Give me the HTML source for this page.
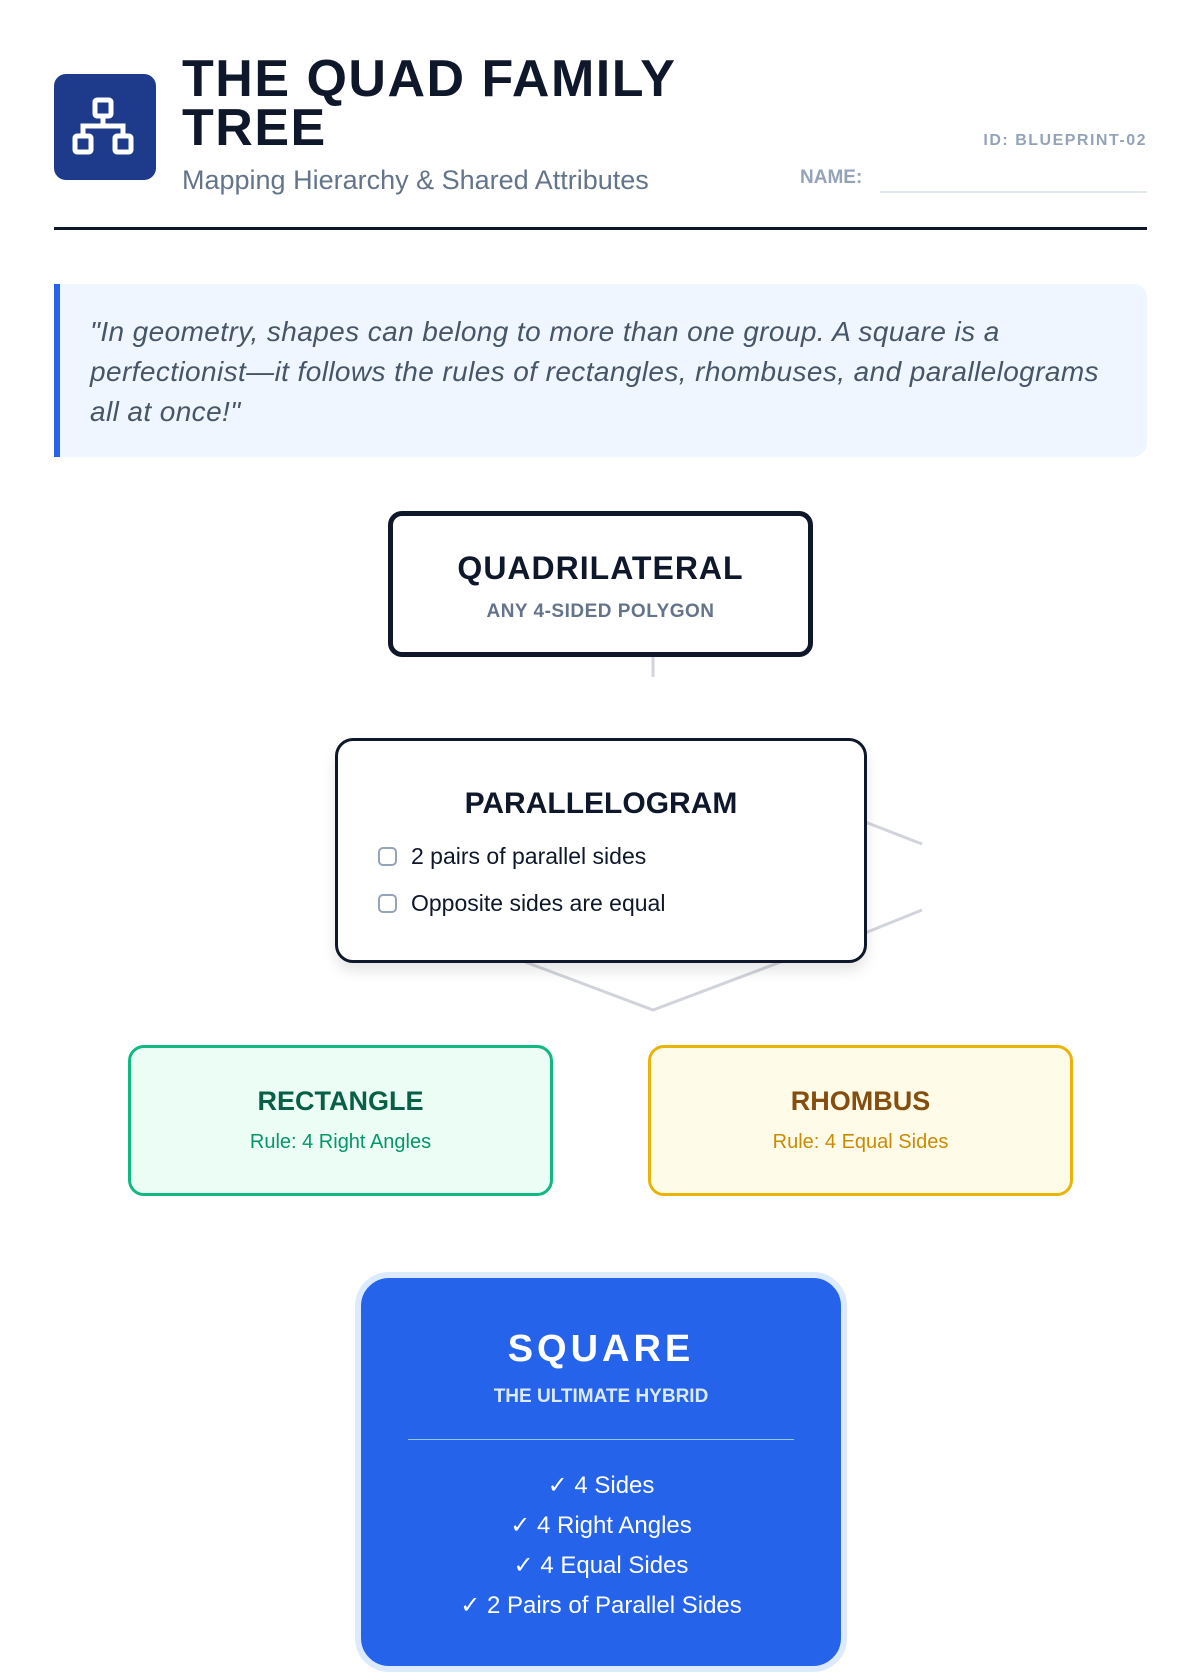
<!DOCTYPE html>
<html><head><meta charset="utf-8"><style>
*{margin:0;padding:0;box-sizing:border-box}
body{width:1200px;height:1600px;overflow:hidden;background:#fff;font-family:"Liberation Sans",sans-serif;position:relative;color:#0f172a}
.a{position:absolute}
.c{text-align:center}
</style></head><body>
<div class="a" style="left:54px;top:74px;width:102px;height:106px;background:#1e3a8a;border-radius:12px"></div>
<svg class="a" style="left:54px;top:74px" width="102" height="106" viewBox="0 0 102 106">
<g fill="none" stroke="#fff" stroke-width="5"><rect x="41" y="26" width="16" height="16" rx="2"/><rect x="21" y="62" width="16" height="16" rx="2"/><rect x="61" y="62" width="16" height="16" rx="2"/><path d="M49 42v10M29 62v-10h40v10"/></g></svg>
<div class="a" style="left:182px;top:55px;font-size:52px;font-weight:900;line-height:49px;letter-spacing:1.5px">THE QUAD FAMILY<br>TREE</div>
<div class="a" style="left:182px;top:165px;font-size:27px;color:#64748b">Mapping Hierarchy &amp; Shared Attributes</div>
<div class="a" style="right:53px;top:132px;font-size:16px;font-weight:bold;color:#94a3b8;letter-spacing:1.5px">ID: BLUEPRINT-02</div>
<div class="a" style="left:800px;top:167px;font-size:19px;font-weight:bold;color:#94a3b8">NAME:</div>
<div class="a" style="left:880px;top:191px;width:267px;height:2px;background:#e2e8f0"></div>
<div class="a" style="left:54px;top:227px;width:1093px;height:3px;background:#0f172a"></div>
<div class="a" style="left:54px;top:284px;width:1093px;height:173px;background:#eff6ff;border-left:6px solid #2563eb;border-radius:0 14px 14px 0;padding:28px 10px 0 30px;font-size:28px;letter-spacing:0.4px;font-style:italic;color:#475569;line-height:40px;white-space:nowrap">"In geometry, shapes can belong to more than one group. A square is a<br>perfectionist—it follows the rules of rectangles, rhombuses, and parallelograms<br>all at once!"</div>
<svg class="a" style="left:0;top:0" width="1200" height="1100"><g stroke="#d1d5db" stroke-width="3" fill="none"><path d="M653 657V677"/><path d="M520 960L653 1010L786 960"/><path d="M860 820L922 844"/><path d="M860 935L922 910"/></g></svg>
<div class="a c" style="left:388px;top:511px;width:425px;height:146px;border:5px solid #0f172a;border-radius:14px;background:#fff">
<div style="font-size:32px;font-weight:900;margin-top:34px;letter-spacing:1px">QUADRILATERAL</div>
<div style="font-size:19px;font-weight:bold;color:#64748b;margin-top:14px;letter-spacing:.5px">ANY 4-SIDED POLYGON</div></div>
<div class="a" style="left:335px;top:738px;width:532px;height:225px;border:3px solid #0f172a;border-radius:18px;background:#fff;box-shadow:0 8px 14px rgba(0,0,0,.1)">
<div class="c" style="font-size:30px;font-weight:900;margin-top:46px">PARALLELOGRAM</div>
<div style="position:absolute;left:40px;top:92px;font-size:23px;line-height:47px">
<div><span style="display:inline-block;width:19px;height:19px;border:2px solid #94a3b8;border-radius:5px;vertical-align:-2px;margin-right:14px"></span>2 pairs of parallel sides</div>
<div><span style="display:inline-block;width:19px;height:19px;border:2px solid #94a3b8;border-radius:5px;vertical-align:-2px;margin-right:14px"></span>Opposite sides are equal</div></div></div>
<div class="a c" style="left:128px;top:1045px;width:425px;height:151px;border:3px solid #10b981;border-radius:16px;background:#ecfdf5">
<div style="font-size:27px;font-weight:900;color:#065f46;margin-top:38px">RECTANGLE</div>
<div style="font-size:20px;color:#059669;margin-top:14px">Rule: 4 Right Angles</div></div>
<div class="a c" style="left:648px;top:1045px;width:425px;height:151px;border:3px solid #eab308;border-radius:16px;background:#fefce8">
<div style="font-size:27px;font-weight:900;color:#854d0e;margin-top:38px">RHOMBUS</div>
<div style="font-size:20px;color:#ca8a04;margin-top:14px">Rule: 4 Equal Sides</div></div>
<div class="a" style="left:355px;top:1272px;width:492px;height:400px;border:6px solid #dbeafe;border-radius:34px;background:#2563eb"></div>
<div class="a c" style="left:361px;top:1278px;width:480px;color:#fff">
<div style="font-size:38px;font-weight:900;letter-spacing:4px;margin-top:50px">SQUARE</div>
<div style="font-size:19px;font-weight:bold;color:#dbeafe;margin-top:15px">THE ULTIMATE HYBRID</div>
<div style="margin:31px auto 0;width:386px;height:1px;background:#93c5fd"></div>
<div style="font-size:24px;line-height:40px;margin-top:26px">✓ 4 Sides<br>✓ 4 Right Angles<br>✓ 4 Equal Sides<br>✓ 2 Pairs of Parallel Sides</div></div>
</body></html>
